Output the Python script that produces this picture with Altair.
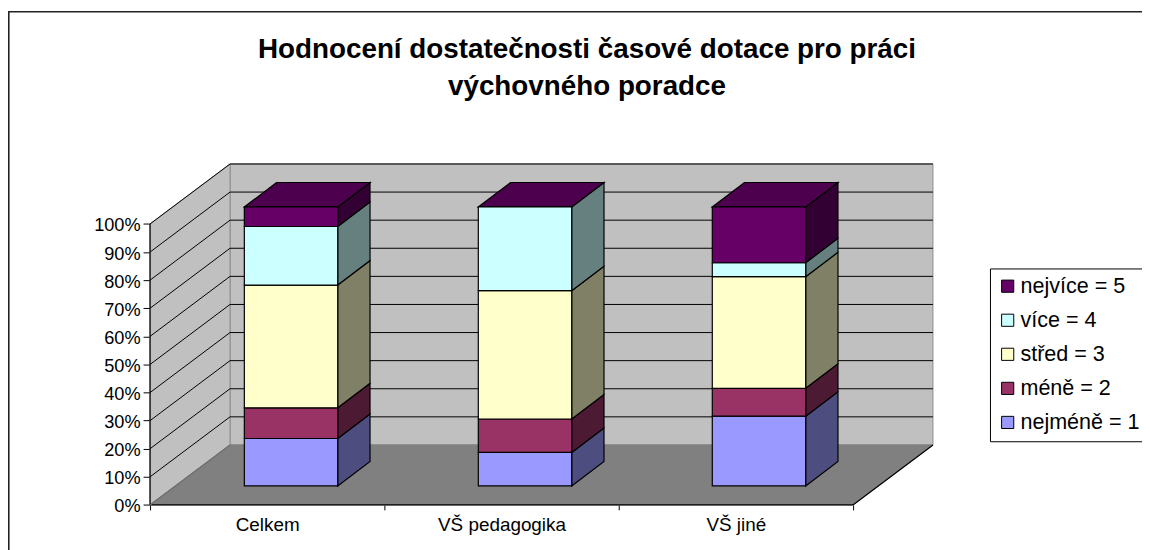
import json
import altair as alt
import pandas as pd

# ---- data ----
categories = ["Celkem", "VŠ pedagogika", "VŠ jiné"]
series = ["nejméně = 1", "méně = 2", "střed = 3", "více = 4", "nejvíce = 5"]
nejmene = [17, 12, 25]
mene = [11, 12, 10]
stred = [44, 46, 40]
vice = [21, 30, 5]
nejvice = [7, 0, 20]
values = [nejmene, mene, stred, vice, nejvice]

front_colors = ["#9999FF", "#993366", "#FFFFCC", "#CCFFFF", "#660066"]
side_colors = ["#4D4D80", "#4D1A33", "#808066", "#668080", "#330033"]
top_color = "#4D004D"
ticks_y = list(range(0, 101, 10))

# ---- geometry of the pseudo 3D box (x in pixel-like units, y in percent) ----
FONT = "Liberation Sans"
S = 1158 / 1150           # the page is 1158 wide with its margins and is fitted to the window
W, H = 783, 341
PX = 100 / 281            # percent per pixel vertically
FLOOR_W = 703             # width of the floor front edge
DEPTH_X, DEPTH_Y = 80, 60 * PX
CAT_W = FLOOR_W / 3
BAR_X0, BAR_STEP, BAR_W = 94.3, 234, 93.4
BAR_DX, BAR_DY = 32.3, 24.5 * PX
BAR_BASE = 19 * PX
BAR_SCALE = 279 / 281
YMAX = H * PX
PAD_L, PAD_T = 150 * S - 8, 164 * S - 10
PW, PH = W * S, H * S

xs = alt.Scale(domain=[0, W], nice=False, zero=False)
ys = alt.Scale(domain=[0, YMAX], nice=False, zero=False)
xaxis = alt.Axis(
    values=[0, CAT_W, 2 * CAT_W, FLOOR_W], domain=False, grid=False, tickColor="black",
    tickSize=5, labelFont=FONT, labelFontSize=19, labelColor="black", labelAlign="center",
    labelOffset=CAT_W / 2 * S, labelOverlap=False, labelBound=False, labelFlush=False, labelPadding=6,
    labelExpr="(" + json.dumps(categories + [""], ensure_ascii=False) + ")[round(datum.index*3)]")
yaxis = alt.Axis(
    values=ticks_y, domain=False, grid=False, tickColor="black", tickSize=7,
    labelFont=FONT, labelFontSize=18.3, labelColor="black", labelPadding=3, labelOffset=2,
    labelExpr="datum.value + '%'")
X = lambda f="x": alt.X(f"{f}:Q", scale=xs, axis=xaxis, title=None)
Y = lambda f="y": alt.Y(f"{f}:Q", scale=ys, axis=yaxis, title=None)

# walls & floor
back = pd.DataFrame({"x": [DEPTH_X], "x2": [W], "y": [DEPTH_Y], "y2": [YMAX]})
left = pd.DataFrame({"x": [0, DEPTH_X], "y": [0, DEPTH_Y], "y2": [100, 100 + DEPTH_Y]})
floor = pd.DataFrame({"y": [0, DEPTH_Y], "x": [0, DEPTH_X], "x2": [FLOOR_W, W]})

wall_style = dict(fill="#C0C0C0", stroke="#8C8C8C", strokeWidth=1)

frame = alt.Chart(pd.DataFrame({"a": [0]})).mark_rect(
    fillOpacity=0, stroke="#222222", strokeWidth=1.6
).encode(x=alt.value(-PAD_L + 0.8), x2=alt.value(1300), y=alt.value(11.7 * S - 10 - PAD_T), y2=alt.value(700))

back_wall = alt.Chart(back).mark_rect(**wall_style).encode(x=X(), x2="x2:Q", y=Y(), y2="y2:Q")
left_wall = alt.Chart(left).mark_area(**wall_style).encode(x=X(), y=Y(), y2="y2:Q")
floor_m = alt.Chart(floor).mark_area(orient="horizontal", fill="#808080", stroke="#808080").encode(
    y=Y(), x=X(), x2="x2:Q")

gl = pd.DataFrame({"y": ticks_y[1:]})
gl["x"], gl["x2"], gl["yb"] = DEPTH_X, W, gl["y"] + DEPTH_Y
gl["x0"] = 0
grid_back = alt.Chart(gl).mark_rule(color="black", strokeWidth=1).encode(
    x=X("x"), x2="x2:Q", y=Y("yb"))
grid_left = alt.Chart(gl).mark_rule(color="black", strokeWidth=1).encode(
    x=X("x0"), x2="x:Q", y=Y("y"), y2="yb:Q")

edges = pd.DataFrame({
    "x": [0, 0, FLOOR_W, 0], "x2": [0, FLOOR_W, W, DEPTH_X],
    "y": [0, 0, 0, 0], "y2": [100, 0, DEPTH_Y, DEPTH_Y],
    "c": ["black", "black", "black", "#6E6E6E"],
})
edge_m = alt.Chart(edges).mark_rule(strokeWidth=1.2).encode(
    x=X(), x2="x2:Q", y=Y(), y2="y2:Q", color=alt.Color("c:N", scale=None))

# bars
front_rows, side_rows, top_rows = [], [], []
for i, cat in enumerate(categories):
    x0 = BAR_X0 + i * BAR_STEP
    x1 = x0 + BAR_W
    acc = 0
    for s, name in enumerate(series):
        v = values[s][i]
        lo = BAR_BASE + acc * BAR_SCALE
        hi = BAR_BASE + (acc + v) * BAR_SCALE
        acc += v
        if v > 0:
            front_rows.append(dict(x=x0, x2=x1, y=lo, y2=hi, series=name))
            key = f"{i}-{s}"
            side_rows.append(dict(x=x1, y=lo, y2=hi, fillc=side_colors[s], k=key))
            side_rows.append(dict(x=x1 + BAR_DX, y=lo + BAR_DY, y2=hi + BAR_DY, fillc=side_colors[s], k=key))
    top = BAR_BASE + acc * BAR_SCALE
    top_rows.append(dict(y=top, x=x0, x2=x1, k=str(i)))
    top_rows.append(dict(y=top + BAR_DY, x=x0 + BAR_DX, x2=x1 + BAR_DX, k=str(i)))

sides = alt.Chart(pd.DataFrame(side_rows)).mark_area(stroke="black", strokeWidth=1.2).encode(
    x=X(), y=Y(), y2="y2:Q", fill=alt.Fill("fillc:N", scale=None), detail="k:N")
tops = alt.Chart(pd.DataFrame(top_rows)).mark_area(
    orient="horizontal", fill=top_color, stroke="black", strokeWidth=1.2
).encode(y=Y(), x=X(), x2="x2:Q", detail="k:N")

fronts = alt.Chart(pd.DataFrame(front_rows)).mark_rect(stroke="black", strokeWidth=1.2).encode(
    x=X(), x2="x2:Q", y=Y(), y2="y2:Q",
    color=alt.Color("series:N", sort=None,
        scale=alt.Scale(domain=series[::-1], range=front_colors[::-1]),
        legend=alt.Legend(
            title=None, orient="none", legendX=840 * S, legendY=104.5 * S,
            fillColor="white", strokeColor="black", padding=7,
            symbolType="square", symbolSize=150, symbolStrokeColor="black", symbolStrokeWidth=1,
            labelFont=FONT, labelFontSize=21.7, labelColor="black", rowPadding=11.3, labelOffset=2,
        )),
)

chart = alt.layer(
    frame, back_wall, left_wall, floor_m, grid_back, grid_left, edge_m, sides, tops, fronts
).properties(
    width=PW, height=PH,
    padding={"left": PAD_L, "top": PAD_T, "right": 1142 - PAD_L - PW, "bottom": 548 - PAD_T - PH},
    autosize=alt.AutoSizeParams(type="none"),
    title=alt.TitleParams(
        text=["Hodnocení dostatečnosti časové dotace pro práci", "výchovného poradce"],
        font=FONT, fontSize=28, fontWeight="bold", color="black", anchor="middle",
        frame="group", dx=45.5 * S, dy=95, lineHeight=37 * S,
    ),
).configure_view(stroke=None)

chart.save("out.html", embed_options={"renderer": "svg", "actions": False})
